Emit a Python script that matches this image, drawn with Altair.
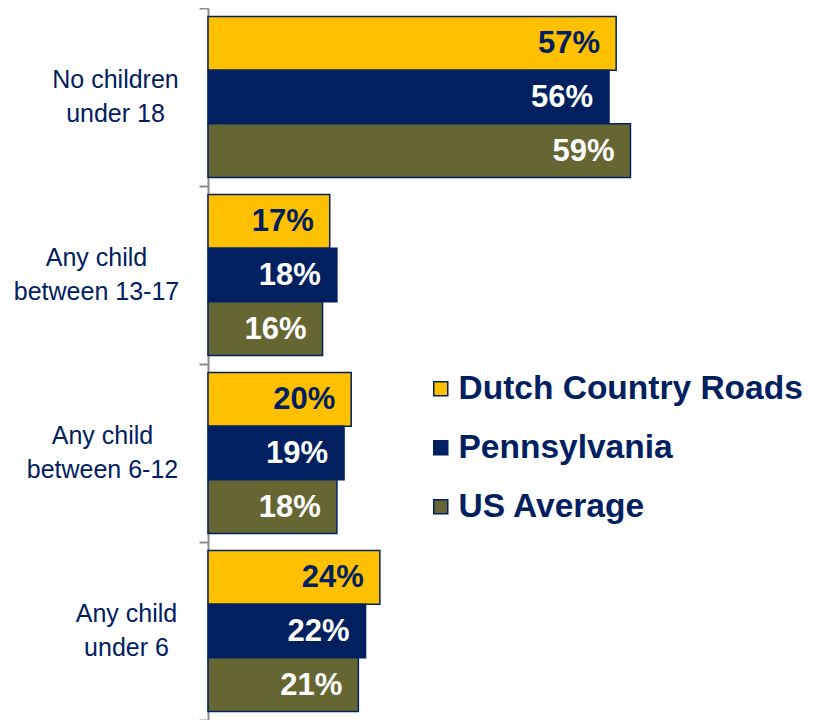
import altair as alt
import pandas as pd

categories = ["No children|under 18", "Any child|between 13-17", "Any child|between 6-12", "Any child|under 6"]
series = ["Dutch Country Roads", "Pennsylvania", "US Average"]
dutch = [57, 17, 20, 24]
penn = [56, 18, 19, 22]
us = [59, 16, 18, 21]
colors = ["#FFC000", "#002060", "#666633"]
# label block centres sit at different distances from the axis (right-aligned blocks, centred lines)
label_pad = [84, 103, 97, 73]

rows = []
for s, vals in zip(series, [dutch, penn, us]):
    for c, v in zip(categories, vals):
        rows.append({"category": c, "series": s, "value": v, "label": f"{v}%"})
df = pd.DataFrame(rows)

NAVY = "#002060"
FONT = "Liberation Sans"

pad_expr = " : ".join(
    f"datum.value == '{c}' ? {p}" for c, p in zip(categories, label_pad)
) + " : 90"

base = alt.Chart(df).encode(
    y=alt.Y(
        "category:N",
        sort=categories,
        scale=alt.Scale(paddingInner=0, paddingOuter=0),
        axis=alt.Axis(
            title=None,
            grid=False,
            tickBand="extent",
            labelExpr="split(datum.label, '|')",
            labelAlign="center",
            labelBaseline="middle",
            labelPadding=alt.ExprRef(expr=pad_expr),
            labelOffset=-18,
            tickSize=9,
            tickColor="#8c8c8c",
            tickWidth=2,
            domainColor="#8c8c8c",
            domainWidth=2,
            labelFont=FONT,
            labelFontSize=25,
            labelColor=NAVY,
            labelLineHeight=34,
        ),
    ),
    yOffset=alt.YOffset("series:N", sort=series, scale=alt.Scale(paddingInner=0, paddingOuter=0.157)),
    x=alt.X("value:Q", scale=alt.Scale(domain=[0, 81]), axis=None),
)

bars = base.mark_bar(stroke=NAVY, strokeWidth=1.5).encode(
    color=alt.Color(
        "series:N",
        sort=series,
        scale=alt.Scale(domain=series, range=colors),
        legend=alt.Legend(
            title=None,
            orient="none",
            legendX=216,
            legendY=364,
            symbolType="square",
            symbolSize=196,
            symbolStrokeColor=NAVY,
            symbolStrokeWidth=1.5,
            labelFont=FONT,
            labelFontSize=33.5,
            labelFontWeight="bold",
            labelColor=NAVY,
            labelOffset=1,
            rowPadding=24,
            labelLimit=600,
        ),
    )
)

text = base.mark_text(
    align="right", baseline="middle", dx=-16, dy=1, font=FONT, fontSize=31, fontWeight="bold"
).encode(
    text="label:N",
    color=alt.condition("datum.series == 'Dutch Country Roads'", alt.value(NAVY), alt.value("white")),
)

chart = (
    alt.layer(bars, text)
    .properties(
        width=580,
        height=712,
        autosize=alt.AutoSizeParams(type="none"),
        padding={"left": 200, "top": 0, "right": 19, "bottom": 0},
        view=alt.ViewBackground(strokeOpacity=0, strokeWidth=0),
    )
    .configure_view(strokeOpacity=0, strokeWidth=0)
    .configure_axis(grid=False)
    .configure(background="white")
)

chart.save("out.html", embed_options={"renderer": "svg", "actions": False})
